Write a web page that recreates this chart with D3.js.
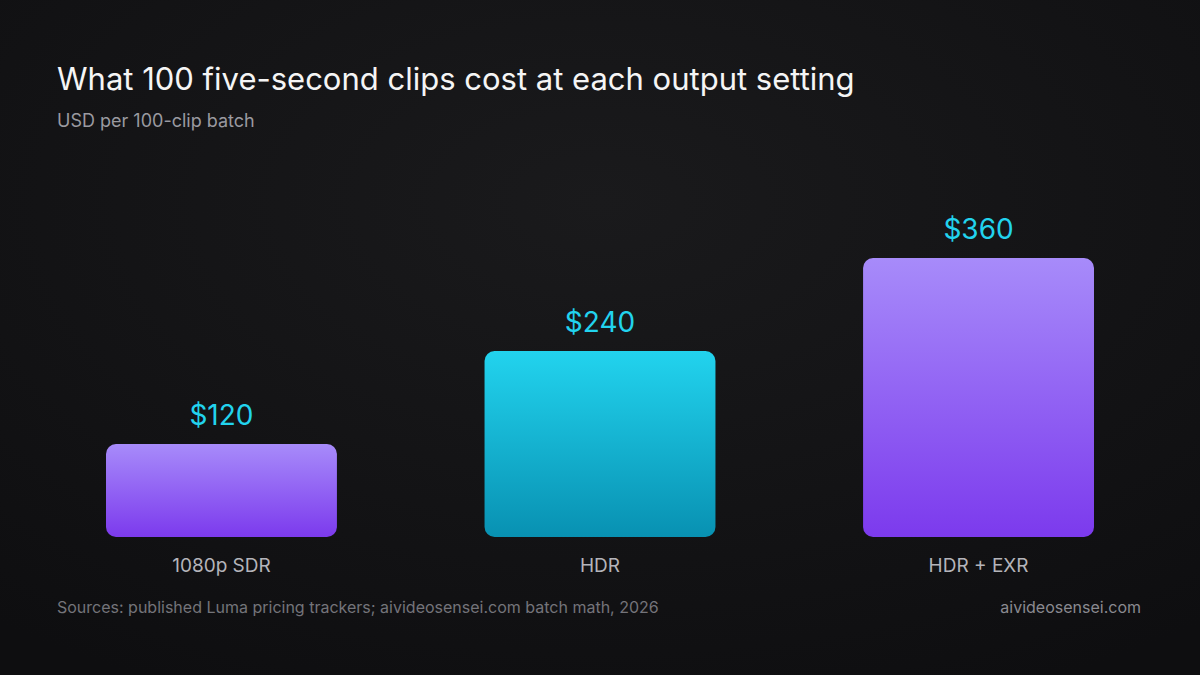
<!DOCTYPE html>
<html><head><meta charset="utf-8">
<script src="https://cdn.jsdelivr.net/npm/d3@7"></script>
<style>body{margin:0;background:#111113}svg{display:block}</style>
</head><body>
<svg id="c" width="1200" height="675"></svg>
<script>
const categories = ["1080p SDR", "HDR", "HDR + EXR"];
const values = [120, 240, 360];
const valueLabels = ["$120", "$240", "$360"];
const barStyles = ["purple", "cyan", "purple"];

const svg = d3.select("#c");
const defs = svg.append("defs");
const bg = defs.append("radialGradient").attr("id","bg").attr("cx","50%").attr("cy","30%").attr("r","80%");
bg.append("stop").attr("offset","0%").attr("stop-color","#1a1a1c");
bg.append("stop").attr("offset","100%").attr("stop-color","#0e0e10");
const gp = defs.append("linearGradient").attr("id","purple").attr("x1",0).attr("y1",0).attr("x2",0).attr("y2",1);
gp.append("stop").attr("offset","0%").attr("stop-color","#a78bfa");
gp.append("stop").attr("offset","100%").attr("stop-color","#7c3aed");
const gc = defs.append("linearGradient").attr("id","cyan").attr("x1",0).attr("y1",0).attr("x2",0).attr("y2",1);
gc.append("stop").attr("offset","0%").attr("stop-color","#22d3ee");
gc.append("stop").attr("offset","100%").attr("stop-color","#0891b2");

svg.append("rect").attr("width",1200).attr("height",675).attr("fill","url(#bg)");

const font = "Inter, 'Noto Sans', sans-serif";
const x = d3.scaleBand().domain(categories).range([32,1168]).paddingInner(0.39).paddingOuter(0.1955);
const y = d3.scaleLinear().domain([0,360]).range([537,258]);

svg.append("text").attr("x",57).attr("y",90).attr("fill","#f5f5f5").attr("font-family",font).attr("font-size",31).text("What 100 five-second clips cost at each output setting");
svg.append("text").attr("x",57).attr("y",127).attr("fill","#9a9aa0").attr("font-family",font).attr("font-size",18).text("USD per 100-clip batch");

const g = svg.append("g");
categories.forEach((c,i)=>{
  g.append("rect").attr("x",x(c)).attr("y",y(values[i])).attr("width",x.bandwidth())
   .attr("height",y(0)-y(values[i])).attr("rx",10).attr("fill",`url(#${barStyles[i]})`);
  g.append("text").attr("x",x(c)+x.bandwidth()/2).attr("y",y(values[i])-19).attr("text-anchor","middle")
   .attr("fill","#22d3ee").attr("font-family",font).attr("font-size",28).text(valueLabels[i]);
  g.append("text").attr("x",x(c)+x.bandwidth()/2).attr("y",572).attr("text-anchor","middle")
   .attr("fill","#b4b4ba").attr("font-family",font).attr("font-size",19).text(c);
});

svg.append("text").attr("x",57).attr("y",613).attr("fill","#74747a").attr("font-family",font).attr("font-size",16).text("Sources: published Luma pricing trackers; aivideosensei.com batch math, 2026");
svg.append("text").attr("x",1141).attr("y",613).attr("text-anchor","end").attr("fill","#8a8a90").attr("font-family",font).attr("font-size",16).text("aivideosensei.com");
</script>
</body></html>
